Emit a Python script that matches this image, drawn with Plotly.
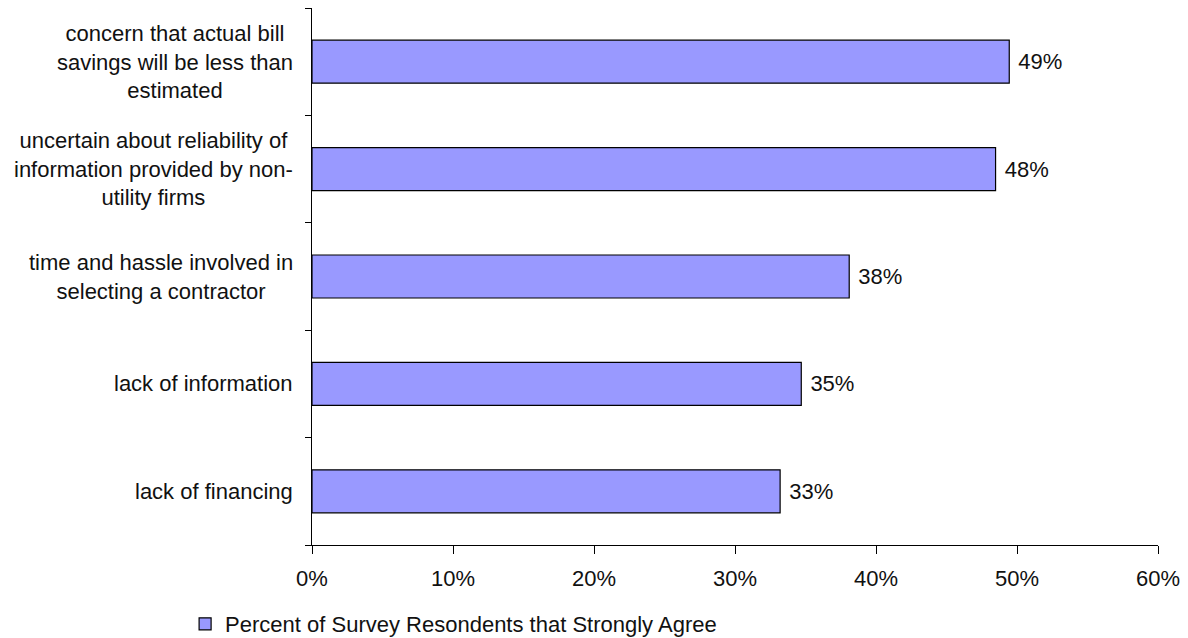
import plotly.graph_objects as go

categories = [
    "concern that actual bill<br>savings will be less than<br>estimated",
    "uncertain about reliability of<br>information provided by non-<br>utility firms",
    "time and hassle involved in<br>selecting a contractor",
    "lack of information",
    "lack of financing",
]
values = [0.4945, 0.4848, 0.381, 0.347, 0.332]
series_name = "Percent of Survey Resondents that Strongly Agree"
x_ticks = [0, 0.1, 0.2, 0.3, 0.4, 0.5, 0.6]

FONT = "Liberation Sans, Arial, sans-serif"
FS = 22

fig = go.Figure()
fig.add_trace(go.Bar(
    y=categories, x=values, orientation="h", name=series_name,
    marker=dict(color="#9999FF", line=dict(color="#000000", width=1.2)),
    width=0.4,
    texttemplate=" %{x:.0%}", textposition="outside",
    textfont=dict(family=FONT, size=FS, color="#111111"),
    cliponaxis=False, showlegend=True,
))

for c in categories:
    fig.add_annotation(x=0, y=c, xref="x", yref="y", text=c, showarrow=False,
                       xanchor="right", yanchor="middle", align="center", xshift=-17,
                       font=dict(family=FONT, size=FS, color="#111111"))

fig.update_layout(
    width=1188, height=638,
    margin=dict(l=312, r=30, t=8, b=93, autoexpand=False),
    paper_bgcolor="white", plot_bgcolor="white",
    font=dict(family=FONT, size=FS, color="#111111"),
    xaxis=dict(range=[0, 0.6], tickvals=x_ticks, tickformat=".0%",
               showgrid=False, zeroline=False, showline=True, linecolor="#000000", linewidth=1.2,
               ticks="outside", ticklen=8, tickcolor="#000000", tickwidth=1.2,
               ticklabelstandoff=5),
    yaxis=dict(categoryorder="array", categoryarray=categories[::-1],
               showticklabels=False, showgrid=False, zeroline=False,
               showline=True, linecolor="#000000", linewidth=1.2,
               ticks="outside", ticklen=6, tickcolor="#000000", tickwidth=1.2,
               tickson="boundaries", range=[-0.5, 4.5]),
    legend=dict(orientation="h", x=-0.150, xanchor="left", y=-0.108, yanchor="top",
                font=dict(family=FONT, size=FS, color="#111111"), bgcolor="rgba(0,0,0,0)"),
    bargap=0.6,
)

fig.write_html("out.html")
